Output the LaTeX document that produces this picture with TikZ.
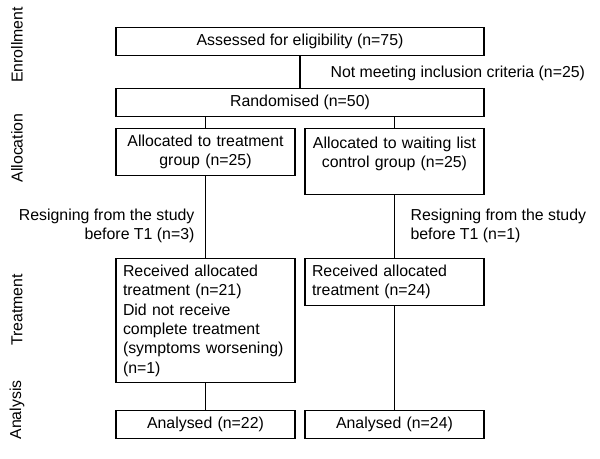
\documentclass[tikz,border=0pt]{standalone}
\usepackage{fontspec}
\setmainfont{Liberation Sans}
\usetikzlibrary{positioning}

\begin{document}
\begin{tikzpicture}[
  x=0.75pt, y=-0.75pt, % pixel grid of the original, y going down
  font=\fontsize{11.9}{14.5}\selectfont,
  line width=0.9pt,
  box/.style={draw, inner xsep=5.25pt, inner ysep=4.8pt, anchor=north},
  wide/.style={box, minimum width=276pt, align=center},
  half/.style={box, text width=123.75pt, align=center},
  halfleft/.style={box, text width=123.75pt, align=left},
  phase/.style={rotate=90, inner sep=0pt},
  note/.style={inner sep=0pt}]

  \useasboundingbox (0,0) rectangle (600,459);

  % phases on the left
  \node[phase] (enrol) at (17,45) {Enrollment};
  \node[phase] (alloc) at (17,148) {Allocation};
  \node[phase] (treat) at (17,310) {Treatment};
  \node[phase] (analy) at (17,410) {Analysis};

  % boxes
  \node[wide] (assess) at (300,27) {Assessed for eligibility (n=75)};
  \node[wide] (random) at (300,88) {Randomised (n=50)};
  \node[half] (alloc1) at (205.5,128) {Allocated to treatment\\group (n=25)};
  \node[half, minimum height=49.5pt] (alloc2) at (394.5,128) {Allocated to waiting list\\control group (n=25)\\\mbox{}};
  \node[halfleft] (recv1) at (205.5,258) {Received allocated\\treatment (n=21)\\Did not receive\\complete treatment\\(symptoms worsening)\\(n=1)};
  \node[halfleft] (recv2) at (394.5,258) {Received allocated\\treatment (n=24)};
  \node[half] (anal1) at (205.5,410) {Analysed (n=22)};
  \node[half] (anal2) at (394.5,410) {Analysed (n=24)};

  % side notes
  \node[note, anchor=west] (excl) at (330,73) {Not meeting inclusion criteria (n=25)};
  \node[note, anchor=east, align=right] (drop1) at (195,226) {Resigning from the study\\before T1 (n=3)};
  \node[note, anchor=west, align=left] (drop2) at (410,226) {Resigning from the study\\before T1 (n=1)};

  % connectors
  \draw (assess) -- (random);
  \draw (random.south -| alloc1) -- (alloc1);
  \draw (random.south -| alloc2) -- (alloc2);
  \draw (alloc1) -- (recv1);
  \draw (alloc2) -- (recv2);
  \draw (recv1) -- (anal1);
  \draw (recv2) -- (anal2);
\end{tikzpicture}
\end{document}
